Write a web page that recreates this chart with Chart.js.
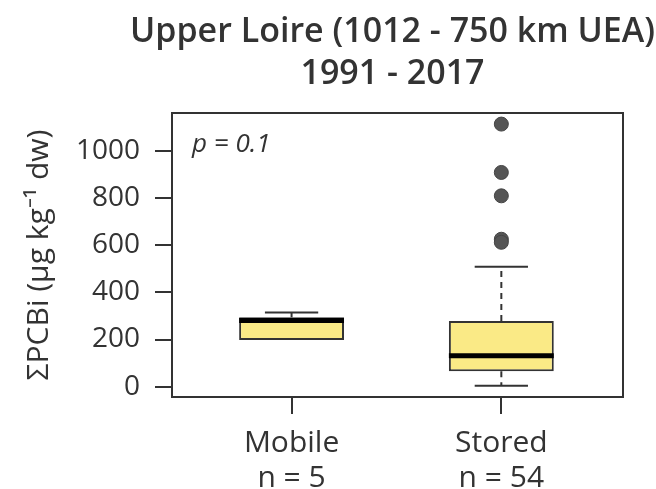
<!DOCTYPE html>
<html>
<head>
<meta charset="utf-8">
<script src="https://cdn.jsdelivr.net/npm/chart.js@4/dist/chart.umd.min.js"></script>
<style>
  html, body { margin: 0; padding: 0; background: #fff; }
  #wrap { width: 656px; height: 489px; position: relative; }
</style>
</head>
<body>
<div id="wrap"><canvas id="c" width="656" height="489"></canvas></div>
<script>
// ---- data ----
const categories = ['Mobile', 'Stored'];
const nLabels = ['n = 5', 'n = 54'];
const xPos = [1, 2];
const q1 = [198, 66];
const median = [281, 131];
const q3 = [294, 278];
const whiskerLow = [198, 4];
const whiskerHigh = [315, 508];
const outliers = [[], [1113, 908, 809, 625, 612]];
const yTicks = [0, 200, 400, 600, 800, 1000];
const titleLines = ['Upper Loire (1012 - 750 km UEA)', '1991 - 2017'];
const yTitle = 'ΣPCBi (µg kg⁻¹ dw)';
const pText = 'p = 0.1';

// ---- styling ----
const ink = '#333333';
const boxFill = '#FAEA86';
const halfBox = 0.25;
const halfCap = 0.127;

const datasets = [];
// boxes (floating bars)
datasets.push({
  type: 'bar',
  data: xPos.map((x, i) => ({ x: x, y: [q1[i], q3[i]] })),
  backgroundColor: boxFill,
  borderColor: ink,
  borderWidth: 2,
  borderSkipped: false,
  barPercentage: 0.5,
  categoryPercentage: 1.0,
  order: 10
});
xPos.forEach((x, i) => {
  // medians
  datasets.push({
    type: 'line',
    data: [{ x: x - halfBox, y: median[i] }, { x: x + halfBox, y: median[i] }],
    borderColor: '#000', borderWidth: 5, pointRadius: 0, borderCapStyle: 'butt', order: 1
  });
  // upper whisker (dashed)
  if (whiskerHigh[i] > q3[i]) {
    datasets.push({
      type: 'line',
      data: [{ x: x, y: q3[i] }, { x: x, y: whiskerHigh[i] }],
      borderColor: ink, borderWidth: 2, borderDash: [6, 5], pointRadius: 0, order: 2
    });
    datasets.push({
      type: 'line',
      data: [{ x: x - halfCap, y: whiskerHigh[i] }, { x: x + halfCap, y: whiskerHigh[i] }],
      borderColor: ink, borderWidth: 2, pointRadius: 0, order: 2
    });
  }
  // lower whisker (dashed)
  if (whiskerLow[i] < q1[i]) {
    datasets.push({
      type: 'line',
      data: [{ x: x, y: q1[i] }, { x: x, y: whiskerLow[i] }],
      borderColor: ink, borderWidth: 2, borderDash: [6, 5], pointRadius: 0, order: 2
    });
    datasets.push({
      type: 'line',
      data: [{ x: x - halfCap, y: whiskerLow[i] }, { x: x + halfCap, y: whiskerLow[i] }],
      borderColor: ink, borderWidth: 2, pointRadius: 0, order: 2
    });
  }
  // outliers
  if (outliers[i].length) {
    datasets.push({
      type: 'scatter',
      data: outliers[i].map(v => ({ x: x, y: v })),
      backgroundColor: '#555555', borderColor: '#444444', borderWidth: 1,
      pointRadius: 7, order: 0
    });
  }
});

const framePlugin = {
  id: 'frame',
  afterDraw(chart) {
    const { ctx, chartArea: a } = chart;
    ctx.save();
    ctx.strokeStyle = ink;
    ctx.lineWidth = 2;
    ctx.strokeRect(a.left, a.top, a.right - a.left, a.bottom - a.top);
    ctx.fillStyle = ink;
    // p-value annotation
    ctx.font = 'italic 26px "Open Sans"';
    ctx.textBaseline = 'alphabetic';
    ctx.textAlign = 'left';
    ctx.fillText(pText, a.left + 20, a.top + 39);
    // two-line title, centred over the plot region
    ctx.font = '600 34px "Open Sans"';
    ctx.textAlign = 'center';
    const cx = (a.left + a.right) / 2 - 5;
    ctx.fillText(titleLines[0], cx, 42);
    ctx.fillText(titleLines[1], cx, 84);
    ctx.restore();
  }
};

new Chart(document.getElementById('c'), {
  type: 'scatter',
  data: { datasets },
  options: {
    responsive: false,
    animation: false,
    layout: { padding: { left: 0, right: 33, top: 113, bottom: 0 } },
    plugins: {
      legend: { display: false },
      tooltip: { enabled: false },
      title: { display: false }
    },
    scales: {
      x: {
        type: 'linear',
        offset: false,
        min: 0.43, max: 2.58,
        afterBuildTicks: s => { s.ticks = xPos.map(v => ({ value: v })); },
        afterFit: s => { s.height = 92; },
        grid: { display: true, offset: false, drawOnChartArea: false, drawTicks: true, tickLength: 17, color: ink, lineWidth: 2 },
        border: { display: false },
        ticks: {
          autoSkip: false, maxRotation: 0, minRotation: 0,
          color: ink, padding: 12,
          font: { family: 'Open Sans', size: 30, lineHeight: 1.17 },
          callback: (v, i) => [categories[i], nLabels[i]]
        }
      },
      y: {
        type: 'linear',
        min: -43.6, max: 1160,
        afterBuildTicks: s => { s.ticks = yTicks.map(v => ({ value: v })); },
        afterFit: s => { s.width = 172; },
        grid: { display: true, drawOnChartArea: false, drawTicks: true, tickLength: 17, color: ink, lineWidth: 2 },
        border: { display: true, color: ink, width: 2 },
        ticks: {
          color: ink, padding: 15,
          font: { family: 'Open Sans', size: 28 },
          callback: v => String(v)
        },
        title: {
          display: true, text: yTitle, color: ink,
          font: { family: 'Open Sans', size: 30 },
          padding: { top: 21, bottom: 0 }
        }
      }
    }
  },
  plugins: [framePlugin]
});
</script>
</body>
</html>
